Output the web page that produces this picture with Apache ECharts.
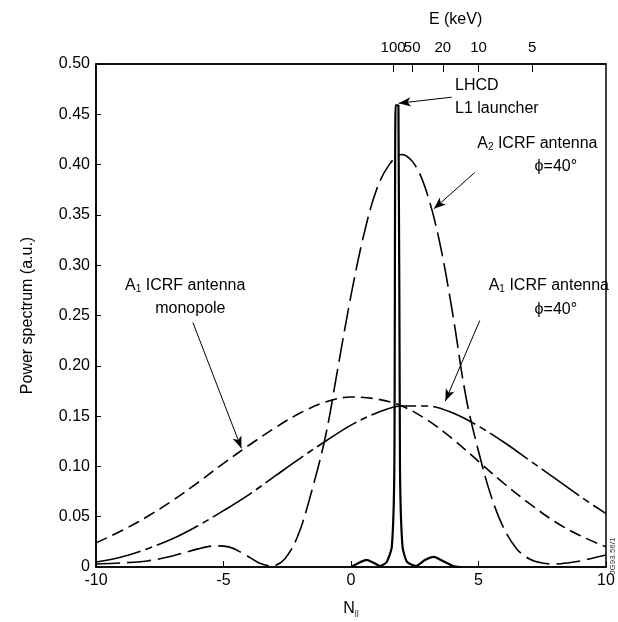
<!DOCTYPE html>
<html><head><meta charset="utf-8">
<script src="https://cdn.jsdelivr.net/npm/echarts@6/dist/echarts.min.js"></script>
<style>html,body{margin:0;padding:0;background:#fff}#c{width:618px;height:622px}</style>
</head><body><div id="c"></div>
<script>
// ---- data (N_parallel, power in a.u.) ----
const xTickValues = [-10, -5, 0, 5, 10];
const yTickStep = 0.05;
const topTickN = [1.65, 2.4, 3.6, 5.0, 7.1];
const topTickLabels = ['100', '50', '20', '10', '5'];

const lhcdSpectrum = [
  [0.0,0.000],[0.3,0.004],[0.6,0.007],[0.9,0.004],[1.15,0.001],[1.4,0.005],[1.6,0.02],
  [1.7,0.10],[1.75,0.459],[1.86,0.459],[1.92,0.10],[2.02,0.02],[2.2,0.005],[2.55,0.001],
  [2.9,0.007],[3.25,0.010],[3.6,0.006],[4.0,0.001],[4.3,0.000]
];
const a2Phi40 = [
  [-10,0.003],[-9,0.004],[-8,0.006],[-7,0.011],[-6,0.018],[-5.3,0.021],[-4.8,0.020],
  [-4.2,0.013],[-3.6,0.004],[-3.1,0.001],[-2.6,0.008],[-2.1,0.03],[-1.6,0.07],[-1.0,0.13],
  [-0.5,0.20],[0.0,0.27],[0.5,0.33],[1.0,0.375],[1.5,0.40],[2.0,0.41],[2.5,0.40],
  [3.0,0.37],[3.5,0.32],[4.0,0.25],[4.5,0.17],[5.0,0.115],[5.5,0.07],[6.0,0.038],
  [6.5,0.018],[7.0,0.008],[7.5,0.004],[8.0,0.003],[8.5,0.004],[9.0,0.006],[9.5,0.009],[10,0.012]
];
const a1Monopole = [
  [-10,0.024],[-9,0.036],[-8,0.050],[-7,0.066],[-6,0.084],[-5,0.103],[-4,0.121],
  [-3,0.138],[-2,0.153],[-1,0.164],[0,0.169],[1,0.167],[2,0.160],[3,0.146],[4,0.127],
  [5,0.105],[6,0.083],[7,0.063],[8,0.045],[9,0.031],[10,0.020]
];
const a1Phi40 = [
  [-10,0.005],[-9,0.010],[-8,0.018],[-7,0.028],[-6,0.041],[-5,0.056],[-4,0.072],
  [-3,0.090],[-2,0.108],[-1,0.125],[0,0.141],[1,0.153],[2,0.160],[3,0.160],[4,0.153],
  [5,0.140],[6,0.124],[7,0.106],[8,0.088],[9,0.070],[10,0.053]
];

// ---- annotations (data coordinates) ----
const notes = [
  {text: 'LHCD', at: [4.08, 0.479], align: 'left'},
  {text: 'L1 launcher', at: [4.08, 0.456], align: 'left'},
  {text: 'A{s|2} ICRF antenna', at: [4.95, 0.421], align: 'left'},
  {text: 'ϕ=40°', at: [7.2, 0.398], align: 'left'},
  {text: 'A{s|1} ICRF antenna', at: [5.4, 0.28], align: 'left'},
  {text: 'ϕ=40°', at: [7.2, 0.256], align: 'left'},
  {text: 'A{s|1} ICRF antenna', at: [-6.5, 0.28], align: 'center'},
  {text: 'monopole', at: [-6.3, 0.257], align: 'center'}
];
const arrows = [
  [[3.95, 0.467], [1.87, 0.461]],
  [[4.85, 0.392], [3.25, 0.356]],
  [[5.05, 0.245], [3.7, 0.165]],
  [[-6.2, 0.243], [-4.3, 0.118]]
];

const FONT = 'Liberation Sans';
const chart = echarts.init(document.getElementById('c'), null, {renderer: 'canvas'});
const lineBase = (name, data, dash, width) => ({
  name, type: 'line', data, showSymbol: false, smooth: 0.35,
  lineStyle: {color: '#000', width: width, type: dash},
  z: 3, silent: true
});
chart.setOption({
  animation: false,
  backgroundColor: '#fff',
  grid: {left: 96, right: 12, top: 64, bottom: 54, show: true, borderColor: '#000', borderWidth: 1.5},
  xAxis: [
    {type: 'value', min: -10, max: 10, interval: 5, position: 'bottom',
     axisLine: {onZero: false, lineStyle: {color: '#000', width: 1.5}},
     axisTick: {inside: true, length: 6, lineStyle: {color: '#000'}},
     axisLabel: {color: '#000', fontFamily: FONT, fontSize: 16, margin: 6},
     splitLine: {show: false},
     name: '{n|N}{s|||}', nameLocation: 'middle', nameGap: 34,
     nameTextStyle: {rich: {n: {fontFamily: FONT, fontSize: 16, color: '#000'}, s: {fontFamily: FONT, fontSize: 8, color: '#000', verticalAlign: 'bottom', padding: [8,0,0,0]}}}},
    {type: 'value', min: -10, max: 10, position: 'top',
     axisLine: {onZero: false, lineStyle: {color: '#000', width: 1.5}},
     axisTick: {inside: true, length: 8, customValues: topTickN, lineStyle: {color: '#000'}},
     axisLabel: {show: false},
     splitLine: {show: false}}
  ],
  yAxis: {type: 'value', min: 0, max: 0.5, interval: yTickStep,
    axisLine: {show: true, onZero: false, lineStyle: {color: '#000', width: 1.5}},
    axisTick: {inside: true, length: 5, lineStyle: {color: '#000'}},
    axisLabel: {color: '#000', fontFamily: FONT, fontSize: 16, margin: 6,
      formatter: v => v === 0 ? '0' : v.toFixed(2)},
    splitLine: {show: false},
    name: 'Power spectrum (a.u.)', nameLocation: 'middle', nameGap: 60,
    nameTextStyle: {color: '#000', fontFamily: FONT, fontSize: 16}},
  series: [
    lineBase('A1 phi=40', a1Phi40, [46, 5, 7, 5], 1.6),
    lineBase('A1 monopole', a1Monopole, [12, 6], 1.6),
    lineBase('A2 phi=40', a2Phi40, [24, 7], 1.6),
    Object.assign(lineBase('LHCD', lhcdSpectrum, 'solid', 2.2), {smooth: 0.2}),
    {type: 'line', data: [], silent: true,
     markLine: {silent: true, symbol: ['none', 'arrow'], symbolSize: [7, 12], label: {show: false},
       lineStyle: {color: '#000', width: 1, type: 'solid'},
       data: arrows.map(a => [{coord: a[0]}, {coord: a[1]}])}}
  ]
});

const richStyles = {s: {fontFamily: FONT, fontSize: 10, color: '#000', verticalAlign: 'bottom', padding: [8, 0, 0, 0]}};
const g = notes.map(n => {
  const p = chart.convertToPixel({xAxisIndex: 0, yAxisIndex: 0}, n.at);
  return {type: 'text', x: p[0], y: p[1], silent: true,
    style: {text: n.text, fill: '#000', font: '16px ' + FONT, align: n.align, verticalAlign: 'middle', rich: richStyles}};
});
topTickN.forEach((v, i) => {
  const x = chart.convertToPixel({xAxisIndex: 1}, v);
  g.push({type: 'text', x: x, y: 48, silent: true,
    style: {text: topTickLabels[i], fill: '#000', font: '15px ' + FONT, align: 'center', verticalAlign: 'middle'}});
});
const xl = chart.convertToPixel({xAxisIndex: 1}, 4.1);
g.push({type: 'text', x: xl, y: 20, style: {text: 'E (keV)', fill: '#000', font: '16px ' + FONT, align: 'center', verticalAlign: 'middle'}});
g.push({type: 'text', x: 613, y: 556, rotation: Math.PI / 2, style: {text: 'JG93.56/1', fill: '#333', font: '8px ' + FONT, align: 'center', verticalAlign: 'middle'}});
chart.setOption({graphic: g});
</script>
</body></html>
